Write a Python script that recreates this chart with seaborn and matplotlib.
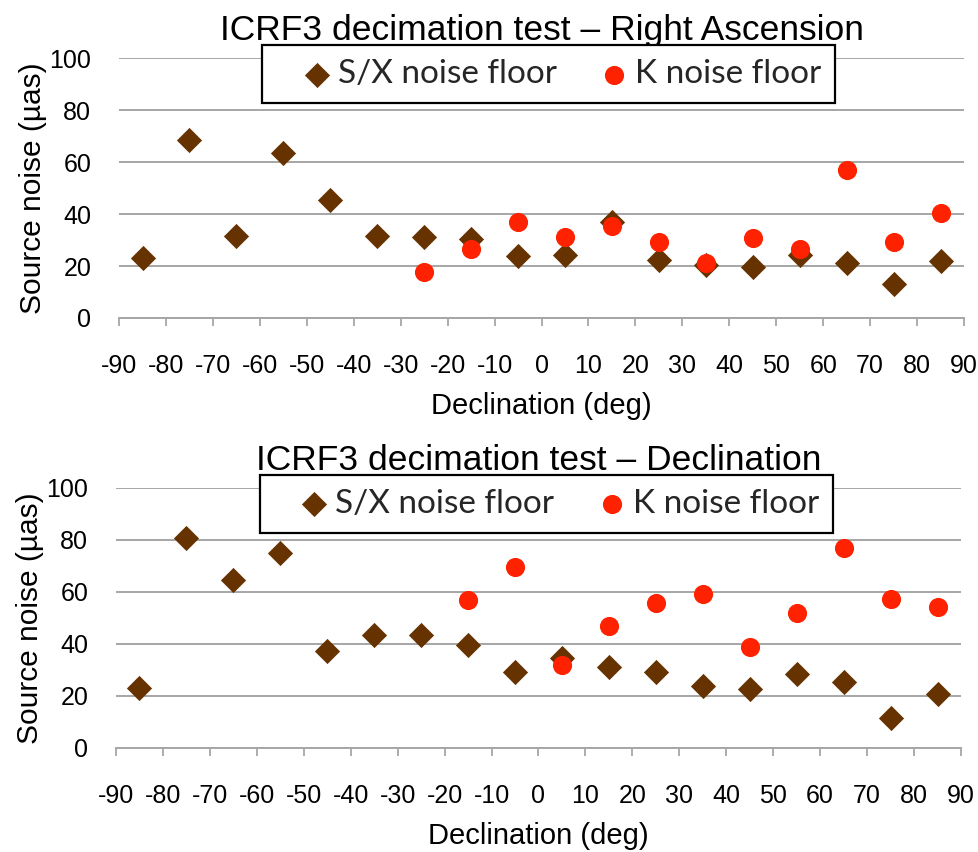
import matplotlib
matplotlib.use("Agg")
import matplotlib.pyplot as plt
import seaborn as sns
import pandas as pd

# Declination bin centres (deg)
dec_bins = [-85, -75, -65, -55, -45, -35, -25, -15, -5, 5, 15, 25, 35, 45, 55, 65, 75, 85]

# Right ascension source noise (µas)
ra_sx = [23.0, 68.4, 31.6, 63.5, 45.3, 31.6, 31.3, 30.3, 23.9,
         24.3, 37.1, 22.2, 20.3, 19.6, 24.3, 21.0, 13.0, 22.1]
ra_k_bins = [-25, -15, -5, 5, 15, 25, 35, 45, 55, 65, 75, 85]
ra_k = [17.7, 26.5, 36.8, 31.3, 35.4, 29.3, 21.0, 30.7, 26.5, 57.1, 29.3, 40.5]

# Declination source noise (µas)
de_sx = [22.8, 80.5, 64.4, 74.9, 37.2, 43.2, 43.5, 39.6, 29.2,
         34.4, 31.2, 29.0, 23.8, 22.4, 28.5, 25.3, 11.5, 20.5]
de_k_bins = [-15, -5, 5, 15, 25, 35, 45, 55, 65, 75, 85]
de_k = [56.7, 69.5, 31.7, 46.7, 55.6, 59.2, 38.8, 51.9, 76.8, 57.1, 54.1]

x_ticks = list(range(-90, 91, 10))
y_ticks = [0, 20, 40, 60, 80, 100]

SX_LABEL = "S/X noise floor"
K_LABEL = "K noise floor"
SX_COLOR = "#663300"
K_COLOR = "#ff2200"
GRID = "#a6a6a6"

sns.set_theme(style="white")
plt.rcParams["font.family"] = ["Liberation Sans", "DejaVu Sans"]

fig = plt.figure(figsize=(9.79, 8.52), dpi=100)
ax_top = fig.add_axes([0.1216, 0.6268, 0.8631, 0.3048])
ax_bot = fig.add_axes([0.1185, 0.1224, 0.8631, 0.3052])

panels = [
    (ax_top, "ICRF3 decimation test – Right Ascension", ra_sx, ra_k_bins, ra_k, (0.5603, 0.9126)),
    (ax_bot, "ICRF3 decimation test – Declination", de_sx, de_k_bins, de_k, (0.558, 0.4085)),
]

for ax, title, sx, kb, kv, leg_pos in panels:
    df_sx = pd.DataFrame({"dec": dec_bins, "noise": sx})
    df_k = pd.DataFrame({"dec": kb, "noise": kv})
    sns.scatterplot(data=df_sx, x="dec", y="noise", ax=ax, marker="D", s=165,
                    color=SX_COLOR, linewidth=0, label=SX_LABEL, zorder=3)
    sns.scatterplot(data=df_k, x="dec", y="noise", ax=ax, marker="o", s=190,
                    color=K_COLOR, linewidth=0, label=K_LABEL, zorder=4)

    ax.set_xlim(-90, 90)
    ax.set_ylim(0, 100)
    ax.set_xticks(x_ticks)
    ax.set_xticklabels([str(t) for t in x_ticks])
    ax.set_yticks(y_ticks)
    ax.set_yticklabels([str(t) for t in y_ticks])

    ax.yaxis.grid(True, color=GRID, linewidth=1.4)
    ax.xaxis.grid(False)
    ax.set_axisbelow(True)
    for side in ("top", "right", "left"):
        ax.spines[side].set_visible(False)
    ax.spines["bottom"].set_color(GRID)
    ax.spines["bottom"].set_linewidth(1.4)

    ax.tick_params(axis="x", bottom=True, direction="out", length=6, width=1.3,
                   color=GRID, pad=20, labelsize=18, labelcolor="black")
    ax.tick_params(axis="y", left=False, length=0, pad=20, labelsize=18,
                   labelcolor="black")

    ax.set_xlabel("Declination (deg)", fontsize=21, labelpad=10, color="black")
    ax.set_ylabel("Source noise (µas)", fontsize=21.5, labelpad=2, color="black")
    ax.set_title(title, fontsize=25.5, pad=13, color="black")

    handles, labels = ax.get_legend_handles_labels()
    leg = ax.legend(handles, labels, ncol=2, loc="center",
                    bbox_to_anchor=leg_pos, bbox_transform=fig.transFigure,
                    frameon=True, fancybox=False, framealpha=1,
                    prop={"family": ["Lato", "DejaVu Sans"], "size": 24},
                    handletextpad=-0.6, columnspacing=0.5, borderpad=0.42,
                    handlelength=2.45)
    leg.get_frame().set_edgecolor("black")
    leg.get_frame().set_linewidth(1.6)
    leg.set_zorder(10)

fig.savefig("out.png", dpi=100)
